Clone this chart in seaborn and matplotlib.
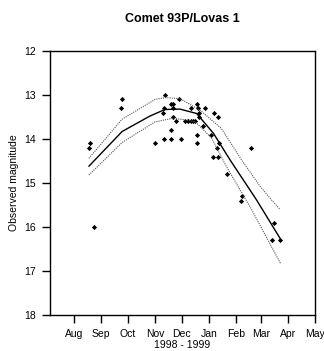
import numpy as np
import pandas as pd
import matplotlib
matplotlib.use("Agg")
import matplotlib.pyplot as plt
import seaborn as sns

# observations: days since 1998-08-01, observed magnitude
obs_day = [17.0, 18.8, 23.0, 54.6, 53.9, 92.0, 103.6, 102.2, 101.4, 110.4,
           112.3, 112.0, 112.7, 115.7, 109.5, 102.2, 109.7, 120.8, 119.5, 125.9,
           129.7, 132.4, 134.6, 137.2, 139.2, 133.1, 141.0, 148.5, 141.2, 158.7,
           141.8, 163.3, 146.6, 138.9, 154.8, 139.5, 164.4, 162.1, 200.2, 157.3,
           162.9, 173.4, 190.4, 189.3, 226.9, 224.3, 233.4]
obs_mag = [14.2, 14.1, 16.0, 13.1, 13.3, 14.1, 13.0, 13.3, 13.4, 13.2,
           13.2, 13.3, 13.5, 13.6, 13.8, 14.0, 14.0, 14.0, 13.1, 13.6,
           13.6, 13.6, 13.6, 13.6, 13.2, 13.3, 13.3, 13.3, 13.4, 13.4,
           13.5, 13.5, 13.7, 13.9, 13.9, 14.1, 14.1, 14.2, 14.2, 14.4,
           14.4, 14.8, 15.3, 15.4, 15.9, 16.3, 16.3]

# fitted light curve and its band
fit_day = [17, 54.6, 86, 103, 120, 139, 158, 177, 207, 233.5]
fit_mag = [14.62, 13.83, 13.48, 13.33, 13.32, 13.42, 13.87, 14.48, 15.39, 16.26]
up_day = [17, 54.6, 92, 103, 120, 139, 145, 167, 190, 211, 224, 233.4]
up_mag = [14.44, 13.55, 13.10, 13.06, 13.08, 13.30, 13.38, 13.76, 14.48, 15.08, 15.39, 15.60]
lo_day = [17, 54.6, 92, 112, 129, 137.5, 156, 172, 200, 234]
lo_mag = [14.82, 14.08, 13.61, 13.53, 13.57, 13.61, 13.98, 14.60, 15.56, 16.83]

month_ticks = [0, 31, 61, 92, 122, 153, 184, 212, 243, 273]
month_labels = ["Aug", "Sep", "Oct", "Nov", "Dec", "Jan", "Feb", "Mar", "Apr", "May"]
mag_ticks = [12, 13, 14, 15, 16, 17, 18]

sns.set_style("ticks")
plt.rcParams['font.family'] = ['Liberation Sans', 'DejaVu Sans']
plt.rcParams.update({"text.color": "black", "axes.labelcolor": "black",
                     "xtick.color": "black", "ytick.color": "black"})

obs = pd.DataFrame({"day": obs_day, "mag": obs_mag})
fit = pd.DataFrame({"day": fit_day, "mag": fit_mag})
up = pd.DataFrame({"day": up_day, "mag": up_mag})
lo = pd.DataFrame({"day": lo_day, "mag": lo_mag})

fig = plt.figure(figsize=(3.24, 3.51), dpi=100)
ax = fig.add_axes([0.1543, 0.1026, 0.8179, 0.7521])

dots = (0, (1, 1))
sns.lineplot(data=up, x="day", y="mag", ax=ax, color="#555555", lw=0.8, linestyle=dots, estimator=None, sort=False)
sns.lineplot(data=lo, x="day", y="mag", ax=ax, color="#555555", lw=0.8, linestyle=dots, estimator=None, sort=False)
sns.lineplot(data=fit, x="day", y="mag", ax=ax, color="black", lw=1.0, estimator=None, sort=False)
sns.scatterplot(data=obs, x="day", y="mag", ax=ax, color="black", marker="D", s=7, linewidth=0)

ax.set_xlim(-27, 273)
ax.set_ylim(18, 12)
ax.set_yticks(mag_ticks)
ax.set_xticks(month_ticks)
ax.set_xticklabels(month_labels)
ax.tick_params(axis="both", direction="out", length=6, width=1, labelsize=7.5, pad=4,
               color="black", labelcolor="black")
for s in ax.spines.values():
    s.set_linewidth(1)
    s.set_color("black")

ax.set_title("Comet 93P/Lovas 1", fontsize=9, fontweight="bold", pad=21, color="black")
ax.set_ylabel("Observed magnitude", fontsize=7.5, labelpad=4, color="black")
ax.set_xlabel("1998 - 1999", fontsize=7.5, labelpad=1, color="black")

fig.savefig("out.png", dpi=100)
